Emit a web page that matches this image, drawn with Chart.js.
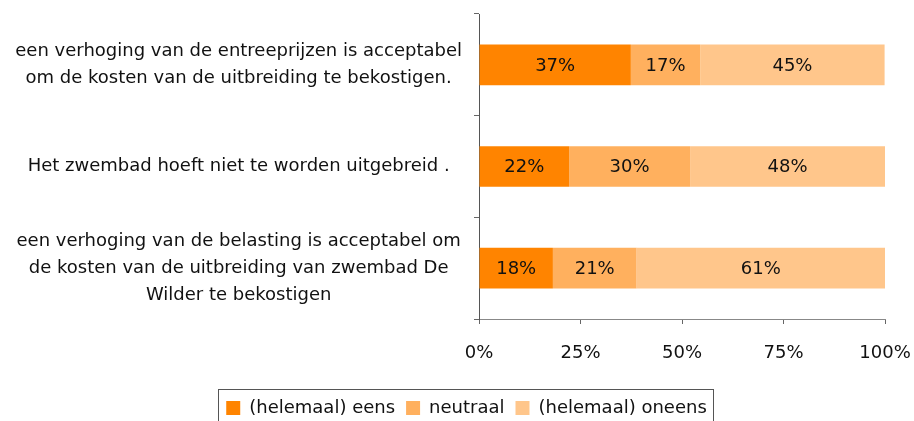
<!DOCTYPE html>
<html>
<head>
<meta charset="utf-8">
<script src="https://cdn.jsdelivr.net/npm/chart.js@4.4.1/dist/chart.umd.min.js"></script>
<style>
html,body{margin:0;padding:0;background:#fff;}
#wrap{width:914px;height:421px;position:relative;}
</style>
</head>
<body>
<div id="wrap"><canvas id="c" width="914" height="421"></canvas></div>
<script>
const categories = [
  ["een verhoging van de entreeprijzen is acceptabel", "om de kosten van de uitbreiding te bekostigen."],
  ["Het zwembad hoeft niet te worden uitgebreid ."],
  ["een verhoging van de belasting is acceptabel om", "de kosten van de uitbreiding van zwembad De", "Wilder te bekostigen"]
];
const seriesNames = ["(helemaal) eens", "neutraal", "(helemaal) oneens"];
const eens = [37.4, 22.2, 18.2];
const neutraal = [17.1, 29.8, 20.6];
const oneens = [45.4, 48.0, 61.2];
const xTicks = [0, 25, 50, 75, 100];
const colors = ["#FF8400", "#FFB05E", "#FFC68B"];

const FONT = "'DejaVu Sans', sans-serif";

const valueLabels = {
  id: 'valueLabels',
  afterDatasetsDraw(chart) {
    const ctx = chart.ctx;
    ctx.save();
    ctx.font = "18px " + FONT;
    ctx.fillStyle = "#111";
    ctx.textAlign = "center";
    ctx.textBaseline = "middle";
    chart.data.datasets.forEach((ds, di) => {
      const meta = chart.getDatasetMeta(di);
      meta.data.forEach((el, i) => {
        const p = el.getProps(['x', 'base', 'y'], true);
        const cx = (p.x + p.base) / 2;
        ctx.fillText(Math.round(ds.data[i]) + "%", cx, p.y + 1);
      });
    });
    ctx.restore();
  }
};

const legendShift = {
  id: 'legendShift',
  afterLayout(chart) {
    const lg = chart.legend;
    if (lg) { lg.left += 24; lg.right += 24; }
  }
};

const legendBorder = {
  id: 'legendBorder',
  afterDraw(chart) {
    const lg = chart.legend;
    if (!lg || !lg.legendHitBoxes || !lg.legendHitBoxes.length) return;
    const boxes = lg.legendHitBoxes;
    let l = Infinity, r = -Infinity, t = Infinity;
    boxes.forEach(b => { l = Math.min(l, b.left); r = Math.max(r, b.left + b.width); t = Math.min(t, b.top); });
    const ctx = chart.ctx;
    ctx.save();
    ctx.strokeStyle = "#555";
    ctx.lineWidth = 1;
    ctx.strokeRect(Math.round(l - 8) + 0.5, Math.round(t - 10) + 0.5, Math.round(r - l + 14), 60);
    ctx.restore();
  }
};

new Chart(document.getElementById('c'), {
  type: 'bar',
  data: {
    labels: categories,
    datasets: [
      { label: seriesNames[0], data: eens, backgroundColor: colors[0] },
      { label: seriesNames[1], data: neutraal, backgroundColor: colors[1] },
      { label: seriesNames[2], data: oneens, backgroundColor: colors[2] }
    ]
  },
  options: {
    indexAxis: 'y',
    responsive: false,
    animation: false,
    devicePixelRatio: 1,
    layout: { padding: { top: 14, right: 29, left: 0, bottom: -6 } },
    datasets: { bar: { categoryPercentage: 0.4, barPercentage: 1.0, borderWidth: 0 } },
    scales: {
      x: {
        stacked: true,
        min: 0, max: 100,
        afterBuildTicks(scale) { scale.ticks = xTicks.map(v => ({ value: v })); },
        afterFit(scale) { scale.height = 69; scale.paddingLeft = 0; scale.paddingRight = 0; },
        border: { display: true, color: '#888', width: 1 },
        grid: { drawOnChartArea: false, drawTicks: true, tickLength: 5, color: '#666' },
        ticks: {
          padding: 19,
          color: '#111',
          font: { family: FONT, size: 18 },
          callback: v => v + '%'
        }
      },
      y: {
        stacked: true,
        afterFit(scale) { scale.width = 479; scale.paddingTop = 0; scale.paddingBottom = 0; },
        border: { display: true, color: '#555', width: 1 },
        grid: { drawOnChartArea: false, drawTicks: true, tickLength: 5, color: '#666', offset: true },
        ticks: {
          crossAlign: 'center',
          padding: 12,
          color: '#111',
          font: { family: FONT, size: 18, lineHeight: 1.5 },
          autoSkip: false
        }
      }
    },
    plugins: {
      legend: {
        position: 'bottom',
        labels: {
          boxWidth: 14, boxHeight: 14,
          color: '#111',
          padding: 11,
          font: { family: FONT, size: 18 }
        }
      },
      tooltip: { enabled: false }
    }
  },
  plugins: [valueLabels, legendShift, legendBorder]
});
</script>
</body>
</html>
